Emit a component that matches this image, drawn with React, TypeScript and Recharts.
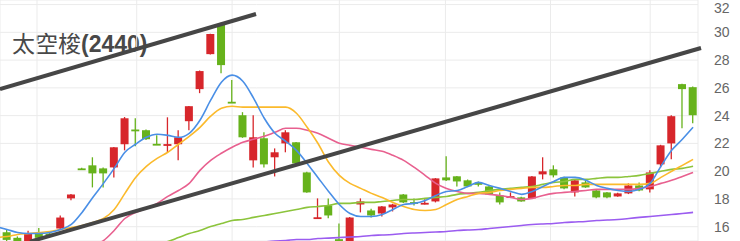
import { ComposedChart, Bar, Line, XAxis, YAxis, CartesianGrid, ReferenceLine } from 'recharts'

const title = '太空梭'
const stockCode = '(2440)'

// daily candles, index 0..64
const opens = [
  15.6, 15.2, 14.9, 15.55, 15.5, 15.87, 18.04, 20.2, 20.42, 20.2,
  20.27, 21.94, 23.0, 22.95, 21.97, 21.9, 21.94, 23.6, 25.91, 28.43,
  30.53, 25.0, 24.03, 20.78, 22.37, 21.0, 22.0, 22.08, 19.91, 16.62,
  17.53, 15.1, 14.9, 17.6, 17.17, 16.95, 17.39, 18.32, 17.77, 17.66,
  17.82, 19.55, 19.63, 19.34, 19.15, 18.9, 18.25, 18.15, 18.11, 18.04,
  19.77, 20.13, 19.55, 18.47, 19.19, 18.61, 18.47, 18.18, 18.4, 18.97,
  18.69, 20.49, 22.0, 26.27, 26.05,
]
const highs = [
  15.8, 15.3, 15.7, 15.9, 15.6, 16.8, 18.35, 20.25, 21.0, 20.27,
  21.75, 23.9, 23.81, 23.0, 22.58, 23.88, 22.95, 24.7, 27.25, 29.9,
  30.7, 26.56, 24.25, 24.03, 22.8, 21.64, 22.95, 22.1, 19.95, 18.04,
  18.04, 16.23, 16.7, 18.04, 17.3, 17.5, 17.65, 18.35, 18.04, 17.97,
  19.5, 21.07, 19.65, 19.4, 19.26, 18.95, 18.47, 18.47, 18.15, 19.65,
  21.0, 20.42, 19.6, 19.4, 19.35, 18.65, 18.5, 18.45, 19.12, 19.19,
  20.06, 21.9, 24.03, 26.3, 26.1,
]
const lows = [
  14.9, 14.8, 14.8, 15.0, 15.3, 15.8, 17.9, 20.1, 18.83, 18.83,
  19.55, 21.5, 21.79, 22.25, 21.9, 21.36, 20.78, 22.95, 25.62, 28.4,
  27.06, 24.93, 22.4, 20.27, 20.27, 19.62, 21.36, 20.5, 18.45, 16.6,
  16.6, 15.0, 14.85, 17.03, 16.66, 16.74, 17.1, 17.7, 17.53, 17.6,
  17.75, 19.3, 18.9, 18.85, 18.9, 18.3, 17.6, 18.1, 17.8, 18.0,
  19.41, 19.55, 18.7, 18.18, 18.8, 18.05, 18.05, 18.15, 18.35, 18.55,
  18.47, 20.27, 20.85, 23.09, 23.45,
]
const closes = [
  15.05, 14.9, 15.5, 15.2, 15.45, 16.66, 18.32, 20.15, 19.84, 19.84,
  21.72, 23.81, 22.9, 22.3, 21.92, 21.95, 22.44, 24.68, 27.21, 29.88,
  27.64, 24.95, 22.44, 22.44, 20.49, 21.36, 22.8, 20.56, 18.47, 16.68,
  16.81, 15.05, 16.66, 17.82, 16.81, 17.46, 17.6, 17.75, 17.73, 17.72,
  19.48, 19.34, 19.26, 18.9, 19.1, 18.32, 17.75, 18.2, 17.82, 19.62,
  19.99, 19.7, 18.76, 19.34, 18.83, 18.11, 18.11, 18.4, 18.97, 18.61,
  19.91, 21.86, 23.96, 25.91, 24.03,
]

// moving averages (null = below the visible range)
const ma5 = [
  15.8, 15.58, 15.51, 15.51, 15.58, 15.8, 16.16, 17.03, 18.11, 19.12,
  20.2, 21.36, 21.94, 22.44, 22.66, 22.58, 22.44, 22.73, 23.67, 25.11,
  26.41, 26.92, 26.48, 25.26, 23.81, 22.73, 22.15, 21.5, 20.56, 19.55,
  18.54, 17.6, 16.95, 16.74, 16.74, 16.88, 17.24, 17.6, 17.68, 17.89,
  18.25, 18.54, 18.61, 18.9, 19.19, 18.97, 18.76, 18.54, 18.33, 18.54,
  18.9, 19.26, 19.55, 19.55, 19.34, 18.97, 18.76, 18.61, 18.54, 18.69,
  19.12, 20.35, 21.5, 22.3, 23.16,
]
const ma10 = [
  15.29, 15.44, 15.51, 15.58, 15.65, 15.8, 15.94, 16.09, 16.3, 16.59,
  17.24, 18.4, 19.55, 20.35, 20.92, 21.36, 21.94, 22.51, 23.16, 23.96,
  24.53, 24.68, 24.61, 24.61, 24.61, 24.61, 24.61, 24.17, 23.16, 22.01,
  20.64, 19.7, 19.12, 18.76, 18.4, 18.11, 17.75, 17.46, 17.24, 17.17,
  17.24, 17.6, 17.96, 18.18, 18.4, 18.47, 18.61, 18.69, 18.76, 18.83,
  18.83, 18.9, 18.97, 18.97, 19.05, 19.05, 19.05, 19.05, 19.05, 19.05,
  19.12, 19.55, 19.99, 20.42, 20.85,
]
const ma20 = [
  null, null, null, null, null, null, null, 14.3, 14.65, 15.0,
  15.73, 16.59, 17.03, 17.31, 17.68, 18.18, 18.61, 19.12, 20.06, 20.78,
  21.29, 21.72, 22.08, 22.3, 22.51, 22.8, 23.09, 23.09, 22.95, 22.73,
  22.37, 22.01, 21.86, 21.72, 21.57, 21.43, 21.14, 20.78, 20.27, 19.7,
  19.12, 18.76, 18.54, 18.4, 18.4, 18.33, 18.25, 18.11, 17.96, 18.04,
  18.25, 18.4, 18.47, 18.54, 18.61, 18.69, 18.69, 18.69, 18.69, 18.76,
  18.9, 19.12, 19.34, 19.62, 19.91,
]
const ma60 = [
  null, null, null, null, null, null, null, null, null, null,
  null, null, null, null, 14.7, 14.93, 15.22, 15.51, 15.73, 16.01,
  16.23, 16.45, 16.52, 16.67, 16.81, 16.95, 17.1, 17.24, 17.39, 17.46,
  17.53, 17.68, 17.68, 17.75, 17.75, 17.82, 17.89, 17.96, 17.96, 18.04,
  18.11, 18.18, 18.33, 18.4, 18.47, 18.61, 18.69, 18.76, 18.83, 18.9,
  19.05, 19.19, 19.26, 19.41, 19.41, 19.48, 19.55, 19.55, 19.62, 19.7,
  19.84, 19.99, 20.13, 20.2, 20.35,
]
const ma120 = [
  null, null, null, null, null, null, null, null, null, null,
  null, null, null, null, null, null, null, null, null, null,
  null, null, null, 14.82, 14.9, 14.97, 15.0, 15.08, 15.08, 15.15,
  15.18, 15.22, 15.26, 15.29, 15.37, 15.4, 15.44, 15.51, 15.55, 15.58,
  15.62, 15.65, 15.73, 15.76, 15.8, 15.87, 15.94, 16.01, 16.09, 16.16,
  16.2, 16.23, 16.3, 16.34, 16.38, 16.45, 16.48, 16.52, 16.59, 16.67,
  16.74, 16.81, 16.88, 16.95, 17.03,
]
// the day before the first visible candle (only its averages show)
const prevMa5 = 16.01
const prevMa10 = 15.22

const yTicks = [16, 18, 20, 22, 24, 26, 28, 30, 32]
const gridDays = [2.8, 12.1, 21, 31, 40.9, 50.7, 60]

// hand-drawn channel lines, in [day, price]
const upperTrend = [[-0.653, 25.91], [23.23, 31.32]]
const lowerTrend = [[2.15, 14.93], [64.74, 28.87]]

const RED = '#d7262b'
const GREEN = '#66b21b'

const data = [
  { i: -1, ma5: prevMa5, ma10: prevMa10 },
  ...closes.map((c, i) => ({
    i,
    o: opens[i],
    h: highs[i],
    l: lows[i],
    c,
    ma5: ma5[i],
    ma10: ma10[i],
    ma20: ma20[i],
    ma60: ma60[i],
    ma120: ma120[i],
  })),
]

function Candle(props: any) {
  const { x, y, width, height, payload } = props
  if (!payload || payload.o == null) return null
  const { o, h, l, c } = payload
  const color = c >= o ? RED : GREEN
  const top = Math.min(y, y + height)
  const hPx = Math.abs(height)
  const px = (v: number) => (h === l ? top : top + (hPx * (h - v)) / (h - l))
  const cx = x + width / 2
  const bTop = px(Math.max(o, c))
  const bBot = px(Math.min(o, c))
  return (
    <g>
      <line x1={cx} x2={cx} y1={top} y2={top + hPx} stroke={color} strokeWidth={1.3} />
      <rect x={cx - 4} y={bTop} width={8} height={Math.max(bBot - bTop, 1.8)} fill={color} />
    </g>
  )
}

export default function App() {
  return (
    <div style={{ position: 'relative', width: 740, height: 241, background: '#fff', overflow: 'hidden' }}>
      <style>{'body{margin:0}'}</style>
      <div
        style={{
          position: 'absolute',
          left: 12,
          top: 31,
          lineHeight: '23px',
          fontSize: 23,
          color: '#484848',
          fontFamily: '"Noto Sans CJK TC", "Noto Sans", sans-serif',
          whiteSpace: 'nowrap',
        }}
      >
        <span>{title}</span>
        <span style={{ fontWeight: 'bold', fontFamily: '"Liberation Sans", Arial, sans-serif' }}>{stockCode}</span>
      </div>
      <ComposedChart
        width={740}
        height={241}
        data={data}
        margin={{ top: 0, right: 0, bottom: 0, left: 0 }}
        style={{ position: 'absolute', left: 0, top: 0 }}
      >
        <CartesianGrid stroke="#ebebeb" strokeWidth={1} />
        <XAxis
          dataKey="i"
          type="number"
          domain={[-0.653, 64.46]}
          ticks={gridDays}
          allowDataOverflow
          hide
        />
        <YAxis
          orientation="right"
          width={42}
          domain={[14.97, 32.33]}
          ticks={yTicks}
          allowDataOverflow
          axisLine={false}
          tickLine={false}
          tickMargin={10}
          tick={{ fill: '#666', fontSize: 14, fontFamily: '"Liberation Sans", Arial, sans-serif' }}
        />
        <Bar
          dataKey={(d: any) => (d.o == null ? null : [d.l, d.h])}
          barSize={8}
          shape={<Candle />}
          isAnimationActive={false}
        />
        <Line dataKey="ma120" stroke="#9b5cf0" strokeWidth={1.6} dot={false} type="monotone" isAnimationActive={false} />
        <Line dataKey="ma60" stroke="#8cc43c" strokeWidth={1.6} dot={false} type="monotone" isAnimationActive={false} />
        <Line dataKey="ma20" stroke="#e8608f" strokeWidth={1.6} dot={false} type="monotone" isAnimationActive={false} />
        <Line dataKey="ma10" stroke="#fbba2c" strokeWidth={1.6} dot={false} type="monotone" isAnimationActive={false} />
        <Line dataKey="ma5" stroke="#4a8fe6" strokeWidth={1.6} dot={false} type="monotone" isAnimationActive={false} />
        <ReferenceLine
          segment={upperTrend.map(([x, y]) => ({ x, y }))}
          stroke="#464646"
          strokeWidth={4}
          ifOverflow="visible"
        />
        <ReferenceLine
          segment={lowerTrend.map(([x, y]) => ({ x, y }))}
          stroke="#464646"
          strokeWidth={4}
          ifOverflow="visible"
        />
      </ComposedChart>
    </div>
  )
}
